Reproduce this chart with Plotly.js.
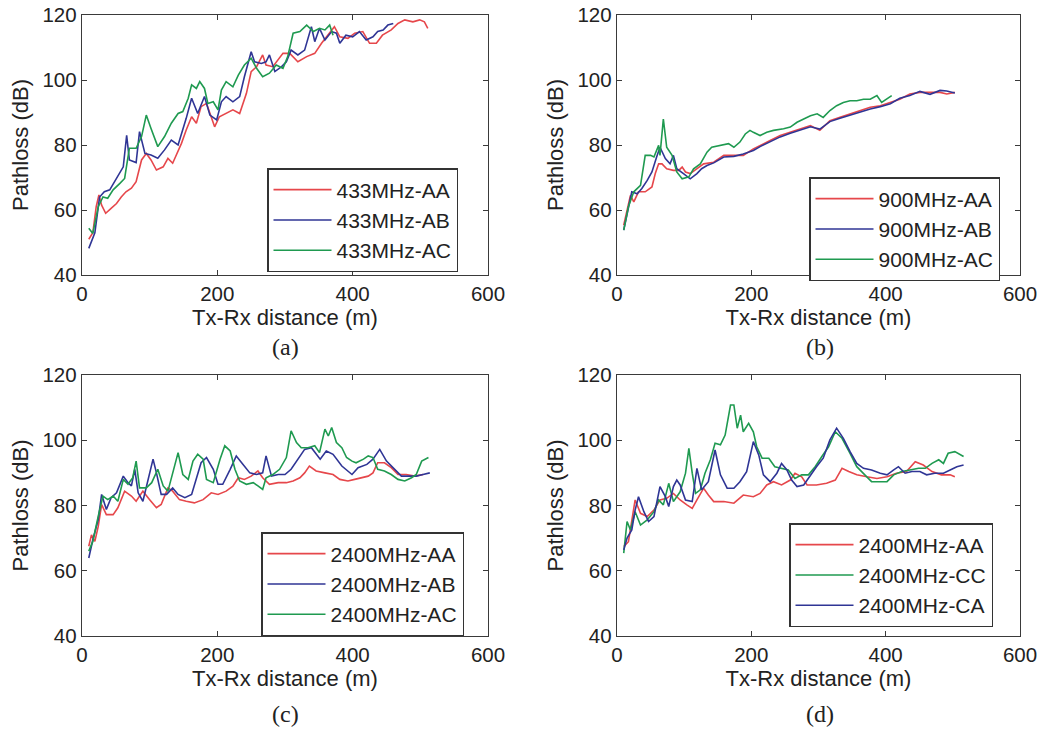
<!DOCTYPE html>
<html>
<head>
<meta charset="utf-8">
<script src="https://cdn.plot.ly/plotly-3.0.1.min.js"></script>
<style>html,body{margin:0;padding:0;background:#fff}#chart{width:1045px;height:732px}</style>
</head>
<body>
<div id="chart"></div>
<script>
// ---------- (a) 433 MHz ----------
var a_AA_x = [10,16,21,25,29,35,43,51,58,65,73,80,88,95,102,110,120,127,134,147,154,162,169,176,184,196,203,213,223,233,243,250,258,267,272,282,297,307,319,332,344,354,364,373,381,393,403,415,425,435,444,457,467,477,489,499,506,511];
var a_AA_y = [51,53,61,64.6,61.5,59,60.5,62,64,65.6,66.7,68.7,75.4,77.4,75.4,72.3,73.3,75.9,74.4,80.5,84.6,88.7,86.7,91.8,92.8,85.6,88.7,89.7,90.8,89.7,95.9,102.6,104.1,107.7,104.6,104.1,108.2,108.2,105.6,107.2,108.2,111.3,113.8,116.4,113.3,112.8,114.4,114.9,111.3,111.3,113.8,115.4,117.4,118.5,117.9,118.5,117.9,115.9];
var a_AB_x = [10,19,26,33,41,48,56,61,66,70,80,85,93,102,112,122,132,142,154,162,171,181,189,199,206,213,223,233,240,250,255,265,272,277,285,295,302,309,319,329,339,344,351,359,369,376,381,390,400,410,420,430,437,445,452,460];
var a_AB_y = [48.2,53,64,65.6,66.2,68.7,71.3,73.3,83,75.4,74.6,84.1,77.4,76.9,75.9,78.5,81.5,80,88.2,94.4,89.7,94.9,89.2,87.7,93.3,94.9,93.3,94.9,101,108.7,105.6,105.1,105.6,107.7,102.6,104.1,105.6,109.2,107.7,109.2,116.4,111.8,115.9,112.3,114.9,114.4,111.3,113.8,113.3,114.9,112.3,113.3,114.9,115.4,116.9,117.4];
var a_AC_x = [10,16,24,31,38,46,56,63,70,80,88,95,102,112,122,132,142,149,157,162,169,174,181,186,194,201,206,213,223,231,240,250,258,267,277,287,297,304,312,322,332,342,351,359,366,371];
var a_AC_y = [54.4,52.8,61,64,63.6,66.2,68.2,69.7,79,79,82.6,89.2,85.1,79.5,82.6,86.7,89.7,90.3,94.4,98.5,97.4,99.5,97.4,92.8,93.3,90.8,96.9,99.5,97.9,101.5,104.6,106.7,103.6,101,102.1,104.6,103.6,107.2,114.4,114.9,116.9,114.9,115.9,115.4,116.9,113.8];

// ---------- (b) 900 MHz ----------
var b_AA_x = [10,16,20,25,32,42,52,57,62,67,74,84,92,97,102,109,119,129,144,159,174,188,203,213,228,243,258,273,288,302,317,332,347,362,377,392,407,421,436,451,466,481,491,503];
var b_AA_y = [55.3,61,64.5,62.5,65.6,65.6,67.1,71.2,74.2,74.2,72.7,72.2,72.2,73.2,71.7,71.2,72.7,74.2,74.7,76.8,76.8,76.8,78.8,79.9,81.4,82.9,83.9,85,86,84.5,87.5,88.5,89.6,90.6,91.6,92.1,93.1,94.1,95.7,96.2,96.2,96.2,95.7,96.2];
var b_AB_x = [10,17,22,30,37,45,52,59,64,72,79,84,89,99,109,119,126,134,144,159,174,188,203,213,228,243,258,273,288,302,317,332,347,362,377,392,407,421,436,451,466,481,491,503];
var b_AB_y = [53.8,61,65.6,65,66.6,69.1,71.7,76.3,79.3,75.8,74.2,76.8,72.7,71.2,69.6,71.2,72.7,73.7,74.5,76.3,76.5,77.2,78.3,79.5,81,82.5,83.6,84.6,85.6,84.9,87.2,88.2,89.2,90.3,91.1,91.8,92.7,94.4,95.2,96.5,95.6,96.8,96.6,96.0];
var b_AC_x = [10,17,25,35,42,50,55,62,64,69,74,82,89,97,107,114,124,134,141,154,166,174,183,191,198,203,213,223,233,248,258,268,278,288,298,307,317,327,337,347,357,367,377,387,394,402,409];
var b_AC_y = [53.8,61,65.6,67.6,76.8,76.8,76.3,79.9,76.8,88,79.3,76.8,71.7,69.6,70.2,72.7,74.2,77.8,79.3,79.9,80.4,79.3,80.9,83.4,84.5,83.9,82.9,83.9,84.5,85,85.5,87,88,89,89.6,88.5,90.6,92.1,93.1,93.6,93.6,94.1,94.1,95.2,93.1,94.1,95.2];

// ---------- (c) 2400 MHz ----------
var c_AA_x = [10,14,19,24,29,36,46,53,63,73,80,90,100,110,117,127,134,144,154,166,179,191,201,213,223,231,240,250,260,267,277,290,302,312,322,329,336,346,359,371,381,393,403,413,423,430,437,447,457,467,479,492,504];
var c_AA_y = [67.5,71,69,73.6,80.3,77.2,77.2,79.3,84.4,82.9,81.3,84.4,81.8,79.3,80.3,85.4,84.4,81.8,81.3,80.8,81.8,83.9,83.4,84.4,85.9,88.5,88,89,90.6,88.5,86.5,87,87,87.5,88.5,90,92.1,90.6,90,89.5,88,87.5,88,88.5,89,90,93.1,93.1,91.6,89.5,89.5,89,89.5];
var c_AB_x = [10,16,24,29,36,43,51,61,68,73,78,83,90,98,105,110,117,125,134,142,152,162,169,176,184,194,201,208,219,228,238,248,258,267,272,280,290,300,309,319,329,339,352,361,371,384,399,408,421,430,440,450,462,472,484,494,504,514];
var c_AB_y = [63.9,69.5,75.7,83.4,78.8,82.4,83.9,89,87,86,91.1,83.9,81.3,88,94.2,90,83.4,83.4,85.4,83.4,82.4,83.4,88.5,93.1,94.7,91.1,86.5,86.5,91.1,95.2,92.6,90,89.5,90,95.2,89,89.5,89.5,91.1,94.2,97.2,97.7,94.2,96.7,95.7,92.1,89.5,91.6,92.6,94.2,97.2,93.6,91.1,89,89,89,89.5,90];
var c_AC_x = [10,16,24,31,38,46,53,61,68,75,80,85,95,103,112,120,127,134,142,149,157,164,171,179,184,194,204,211,219,226,233,243,253,260,267,272,282,292,302,309,317,324,334,344,351,359,364,369,376,384,391,399,405,416,423,430,437,447,457,467,477,487,494,502,512];
var c_AC_y = [66,69,76.7,82.9,81.8,82.9,81.3,88,86.5,88.5,93.6,85.4,85.4,87,91.1,86,84.4,90,96.2,89.5,88,93.6,95.7,94.2,88,87,94.2,98.3,96.7,91.1,87.5,86.5,87,86,84.9,88.5,89.5,91.1,94.7,102.9,99.3,97.7,97.7,98.3,96.2,103.4,101.3,103.9,99.3,97.7,94.7,93.6,93.1,94.2,95.2,94.7,91.1,90.6,89.5,88,87.5,88.5,89.5,93.6,94.7];

// ---------- (d) 2400 MHz ----------
var d_AA_x = [10,17,27,35,45,55,64,74,84,94,104,112,119,129,136,144,159,174,188,203,213,223,233,245,258,265,275,283,297,312,325,335,345,357,372,387,402,416,431,444,456,469,483,496,503];
var d_AA_y = [67.4,68.9,81.7,77.6,76.6,78.6,81.7,82.2,83.7,81.7,80.2,79.1,81.7,85.3,83.2,81.2,81.2,80.7,83.2,82.7,83.7,86.3,87.3,86.3,87.8,89.9,88.8,86.3,86.3,86.8,87.8,91.4,90.4,89.4,88.8,88.3,88.8,89.9,90.4,93.4,92.4,90.4,89.4,89.4,88.8];
var d_CC_x = [10,15,20,27,35,45,55,62,69,77,84,94,102,107,112,117,124,131,139,146,154,161,169,174,179,184,188,196,203,208,216,226,235,245,255,265,275,285,295,305,315,325,335,347,357,369,379,392,402,412,424,436,449,459,469,479,486,493,503,516];
var d_CC_y = [65.4,75.1,72.5,78.1,74,75.6,78.1,81.7,80.2,86.8,81.2,84.2,89.9,97.5,89.9,83.7,84.8,89.9,94,99.1,98.6,101.6,110.8,110.8,103.7,107.7,102.6,105.2,102.6,98,94.5,94.5,91.9,91.4,90.9,88.3,89.4,89.4,91.9,95,98,102.6,100.6,96,91.9,89.4,87.3,87.3,87.3,89.4,90.4,90.9,91.4,91.4,92.9,94,92.9,96,96.5,95];
var d_CA_x = [10,15,22,27,32,40,47,55,64,72,77,84,89,94,102,112,119,126,136,146,154,164,174,183,193,203,211,218,228,238,245,253,260,268,278,288,297,307,317,327,337,347,357,367,379,392,402,412,419,429,439,451,461,473,486,496,506,516];
var d_CA_y = [66.4,70,72.5,78.6,82.7,78.1,75.1,76.6,85.8,82.7,79.7,85.8,87.8,86.3,81.7,81.2,91.4,84.8,87.3,97,89.4,85.3,85.3,87.3,90.4,99.6,95.5,89.4,87.3,89.9,92.9,90.9,87.8,85.8,86.3,89.4,91.9,94.5,100.1,103.7,100.6,96.5,92.9,91.4,90.9,89.9,89.4,90.9,91.9,89.9,90.4,90.4,89.4,89.9,89.9,90.9,91.9,92.4];

var panelLabels = ['(a)','(b)','(c)','(d)'];
var xTickVals = [0,200,400,600];
var yTickVals = [40,60,80,100,120];

var RED = '#e6474b', BLUE = '#2f3595', GREEN = '#1f9a50';

function tr(x, y, name, color, n) {
  var s = n === 1 ? '' : String(n);
  return {x: x, y: y, name: name, type: 'scatter', mode: 'lines',
    line: {color: color, width: 1.6},
    xaxis: 'x' + s, yaxis: 'y' + s, legend: 'legend' + s, hoverinfo: 'x+y+name'};
}

var data = [
  tr(a_AA_x, a_AA_y, '433MHz-AA', RED, 1),
  tr(a_AB_x, a_AB_y, '433MHz-AB', BLUE, 1),
  tr(a_AC_x, a_AC_y, '433MHz-AC', GREEN, 1),
  tr(b_AA_x, b_AA_y, '900MHz-AA', RED, 2),
  tr(b_AB_x, b_AB_y, '900MHz-AB', BLUE, 2),
  tr(b_AC_x, b_AC_y, '900MHz-AC', GREEN, 2),
  tr(c_AA_x, c_AA_y, '2400MHz-AA', RED, 3),
  tr(c_AB_x, c_AB_y, '2400MHz-AB', BLUE, 3),
  tr(c_AC_x, c_AC_y, '2400MHz-AC', GREEN, 3),
  tr(d_AA_x, d_AA_y, '2400MHz-AA', RED, 4),
  tr(d_CC_x, d_CC_y, '2400MHz-CC', GREEN, 4),
  tr(d_CA_x, d_CA_y, '2400MHz-CA', BLUE, 4)
];

var FONT = 'Liberation Sans, Arial, Helvetica, sans-serif';
var AXC = '#3a3a3a';

function xax(dom, anchor) {
  return {domain: dom, anchor: anchor, range: [0, 600], tickvals: xTickVals,
    showgrid: false, zeroline: false, showline: true, mirror: 'allticks',
    ticks: 'inside', ticklen: 5, tickwidth: 1, tickcolor: AXC,
    linecolor: AXC, linewidth: 1.3,
    tickfont: {family: FONT, size: 20.5, color: '#222'},
    title: {text: 'Tx-Rx distance (m)', font: {family: FONT, size: 22, color: '#222'}, standoff: 1}};
}
function yax(dom, anchor) {
  return {domain: dom, anchor: anchor, range: [40, 120], tickvals: yTickVals,
    showgrid: false, zeroline: false, showline: true, mirror: 'allticks',
    ticks: 'inside', ticklen: 5, tickwidth: 1, tickcolor: AXC,
    linecolor: AXC, linewidth: 1.3,
    tickfont: {family: FONT, size: 20.5, color: '#222'},
    title: {text: 'Pathloss (dB)', font: {family: FONT, size: 22, color: '#222'}, standoff: 7}};
}
function leg(x, y) {
  return {x: x, y: y, xanchor: 'left', yanchor: 'top', xref: 'paper', yref: 'paper',
    bgcolor: '#fff', bordercolor: '#333', borderwidth: 1.5,
    font: {family: FONT, size: 21, color: '#222'}, itemwidth: 58, tracegroupgap: 0};
}

var XL = [82/1045, 488/1045], XR = [617/1045, 1020/1045];
var YT = [(732-275)/732, (732-15)/732], YB = [(732-636)/732, (732-375)/732];

var layout = {
  width: 1045, height: 732,
  margin: {l: 0, r: 0, t: 0, b: 0},
  paper_bgcolor: '#fff', plot_bgcolor: '#fff',
  showlegend: true,
  xaxis: xax(XL, 'y'), yaxis: yax(YT, 'x'),
  xaxis2: xax(XR, 'y2'), yaxis2: yax(YT, 'x2'),
  xaxis3: xax(XL, 'y3'), yaxis3: yax(YB, 'x3'),
  xaxis4: xax(XR, 'y4'), yaxis4: yax(YB, 'x4'),
  legend: leg(267/1045, (732-168)/732),
  legend2: leg(809/1045, (732-177)/732),
  legend3: leg(261/1045, (732-532)/732),
  legend4: leg(789/1045, (732-523)/732),
  annotations: [
    {text: panelLabels[0], x: 285/1045, y: (732-347)/732},
    {text: panelLabels[1], x: 820/1045, y: (732-347)/732},
    {text: panelLabels[2], x: 285/1045, y: (732-714)/732},
    {text: panelLabels[3], x: 820/1045, y: (732-714)/732}
  ].map(function (a) {
    return {text: a.text, x: a.x, y: a.y, xref: 'paper', yref: 'paper',
      xanchor: 'center', yanchor: 'middle', showarrow: false,
      font: {family: 'Liberation Serif, Times New Roman, serif', size: 24, color: '#222'}};
  })
};

Plotly.newPlot('chart', data, layout, {displayModeBar: false, staticPlot: true});
</script>
</body>
</html>
